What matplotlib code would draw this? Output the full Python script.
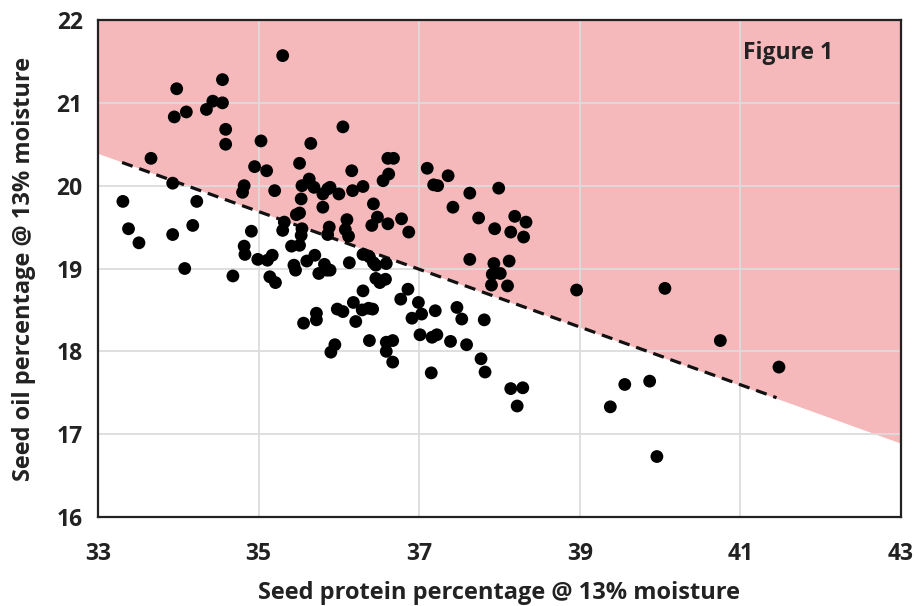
import matplotlib
matplotlib.use("Agg")
import matplotlib.pyplot as plt
import numpy as np

# Seed protein (x) and seed oil (y), both @ 13% moisture
protein = [
    35.30, 33.98, 34.55, 33.95, 34.10, 34.35, 34.43, 34.55, 34.59, 34.59,
    33.66, 35.03, 35.65, 36.05, 34.95, 35.10, 35.51, 36.16, 36.61, 36.68,
    36.62, 36.55, 35.63, 35.69, 35.54, 35.80, 35.86, 35.89, 36.00, 36.17,
    36.30, 33.93, 34.82, 34.80, 35.20, 35.53, 35.80, 36.43, 35.47, 35.51,
    36.10, 36.48, 36.41, 36.61, 36.78, 36.87, 35.32, 35.30, 35.54, 35.53,
    35.88, 35.86, 36.08, 36.12, 34.91, 37.10, 37.36, 37.18, 37.23, 37.63,
    37.99, 37.42, 37.74, 38.19, 38.33, 37.94, 38.14, 38.30, 37.63, 37.93,
    38.12, 37.91, 38.01, 37.90, 38.10, 38.96, 40.06, 40.75, 41.48,
    33.31, 34.23, 33.38, 33.51, 33.93, 34.18, 34.08, 34.68, 34.82, 34.83,
    34.99, 35.11, 35.17, 35.14, 35.21, 35.41, 35.51, 35.44, 35.46, 35.60,
    35.70, 35.75, 35.82, 35.85, 35.89, 36.13, 36.30, 36.38, 36.43, 36.46,
    36.59, 36.46, 36.51, 36.58, 36.30, 36.18, 36.29, 36.37, 36.42, 36.21,
    35.98, 36.05, 35.72, 35.72, 35.56, 35.95, 35.90, 36.38, 36.59, 36.67,
    36.59, 36.67, 36.86, 36.77, 36.99, 37.03, 36.91, 37.20, 37.47, 37.53,
    37.81, 37.01, 37.16, 37.22, 37.39, 37.59, 37.77, 37.82, 37.15, 38.14,
    38.29, 38.22, 39.56, 39.87, 39.38, 39.96,
]
oil = [
    21.57, 21.17, 21.28, 20.83, 20.89, 20.92, 21.02, 21.00, 20.68, 20.50,
    20.33, 20.54, 20.51, 20.71, 20.23, 20.18, 20.27, 20.18, 20.33, 20.33,
    20.14, 20.06, 20.08, 19.98, 20.00, 19.90, 19.96, 19.98, 19.90, 19.94,
    19.99, 20.03, 20.00, 19.92, 19.94, 19.84, 19.74, 19.78, 19.65, 19.67,
    19.59, 19.62, 19.52, 19.54, 19.60, 19.44, 19.56, 19.46, 19.48, 19.40,
    19.50, 19.41, 19.47, 19.39, 19.45, 20.21, 20.12, 20.01, 20.00, 19.91,
    19.97, 19.74, 19.61, 19.63, 19.56, 19.48, 19.44, 19.38, 19.11, 19.06,
    19.09, 18.93, 18.94, 18.80, 18.79, 18.74, 18.76, 18.13, 17.81,
    19.81, 19.81, 19.48, 19.31, 19.41, 19.52, 19.00, 18.91, 19.27, 19.17,
    19.11, 19.10, 19.16, 18.90, 18.83, 19.27, 19.28, 19.04, 18.98, 19.09,
    19.16, 18.94, 19.05, 18.98, 18.98, 19.07, 19.17, 19.14, 19.07, 19.04,
    19.06, 18.88, 18.83, 18.87, 18.73, 18.59, 18.50, 18.52, 18.51, 18.36,
    18.51, 18.48, 18.46, 18.38, 18.34, 18.08, 17.99, 18.13, 18.11, 18.13,
    18.00, 17.87, 18.75, 18.63, 18.59, 18.45, 18.40, 18.49, 18.53, 18.39,
    18.38, 18.20, 18.17, 18.20, 18.12, 18.08, 17.91, 17.75, 17.74, 17.55,
    17.56, 17.34, 17.60, 17.64, 17.33, 16.73,
]

# Shaded-region boundary and dashed threshold line
boundary_x = [33.0, 43.0]
boundary_y = [20.39, 16.89]
dashed_x = [33.30, 41.45]
dashed_y = [20.28, 17.44]

x_ticks = [33, 35, 37, 39, 41, 43]
y_ticks = [16, 17, 18, 19, 20, 21, 22]

plt.rcParams['font.family'] = ['Open Sans', 'DejaVu Sans']

fig = plt.figure(figsize=(9.19, 6.06), dpi=100)
ax = fig.add_axes([98/919, 1-517/606, (901-98)/919, (517-20)/606])

ax.fill_between(boundary_x, boundary_y, [22, 22], color='#F5B9BB', lw=0, zorder=0)
ax.set_xlim(33, 43)
ax.set_ylim(16, 22)
ax.set_xticks(x_ticks)
ax.set_yticks(y_ticks)
ax.grid(True, color='#DCDCDC', lw=1.3, zorder=1)
ax.set_axisbelow(True)

ax.plot(dashed_x, dashed_y, ls=(0, (3.5, 2.2)), color='#111111', lw=2.3, zorder=2)
ax.scatter(protein, oil, s=85, color='black', edgecolors='none', zorder=3)

for sp in ax.spines.values():
    sp.set_color('#222222')
    sp.set_linewidth(1.6)
    sp.set_zorder(5)

ax.tick_params(axis='both', length=0, labelsize=16.5, colors='#222222')
ax.tick_params(axis='x', pad=18)
ax.tick_params(axis='y', pad=11)
for lab in ax.get_xticklabels() + ax.get_yticklabels():
    lab.set_fontweight('bold')

ax.set_xlabel('Seed protein percentage @ 13% moisture', fontsize=17,
              fontweight='bold', color='#222222', va='center')
ax.xaxis.set_label_coords(0.5, (517 - 593) / 497)
ax.set_ylabel('Seed oil percentage @ 13% moisture', fontsize=17,
              fontweight='bold', color='#222222', va='center')
ax.yaxis.set_label_coords((24 - 98) / 803, 0.5)

ax.text(41.03, 21.6, 'Figure 1', fontsize=16.5, fontweight='bold',
        color='#222222', ha='left', va='center', zorder=6)

fig.savefig('out.png', dpi=100)
